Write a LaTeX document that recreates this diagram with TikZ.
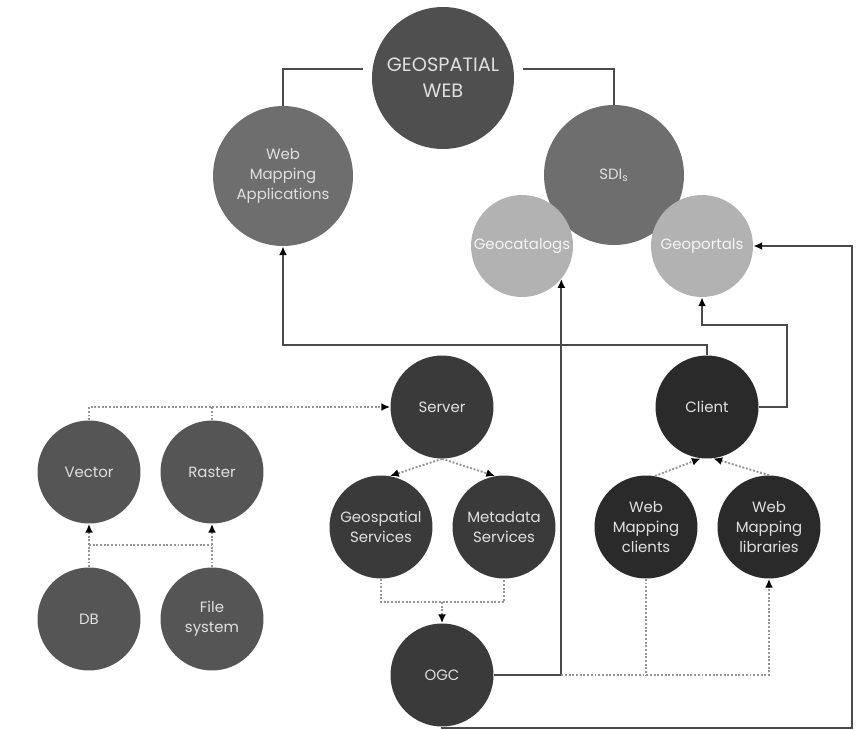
\documentclass[tikz,border=0pt]{standalone}
\usepackage{fontspec}
\setmainfont{Poppins}
\usetikzlibrary{arrows.meta}
\definecolor{topgray}{HTML}{4F4F4F}
\definecolor{midgray}{HTML}{6E6E6E}
\definecolor{lightgray}{HTML}{B2B2B2}
\definecolor{datagray}{HTML}{555555}
\definecolor{servgray}{HTML}{3A3A3A}
\definecolor{cligray}{HTML}{2A2A2A}
\definecolor{linegray}{HTML}{4A4A4A}
\definecolor{dotgray}{HTML}{959595}
\tikzset{
  bub/.style={circle,inner sep=0pt,minimum size=2.06cm,align=center,text=white!88!black,
    font=\fontsize{8.5}{11.2}\selectfont},
  big/.style={bub,minimum size=2.8cm},
  lnk/.style={draw=linegray,line width=1.1pt},
  lnkarr/.style={lnk,-{Latex[length=5pt,width=4.5pt,black]}},
  dot/.style={draw=dotgray,line width=1.1pt,densely dotted},
  dotarr/.style={dot,-{Latex[length=5pt,width=4.5pt,black]}}
}
\begin{document}
\begin{tikzpicture}[x=0.02cm,y=-0.02cm]
    \useasboundingbox[fill=white] (0,0) rectangle (863,730);
    \node[big,fill=topgray,minimum size=2.84cm,font=\fontsize{11}{15}\selectfont] (gweb) at (443,78) {GEOSPATIAL\\WEB};
    \node[big,fill=midgray] (wma) at (283,176) {Web\\Mapping\\Applications};
    \node[big,fill=midgray] (sdi) at (614,175) {SDI\textsubscript{s}};
    \node[bub,fill=lightgray,minimum size=2.04cm,text=white!92!gray] (gcat) at (522,246) {Geocatalogs};
    \node[bub,fill=lightgray,minimum size=2.04cm,text=white!92!gray] (gport) at (702,246) {Geoportals};
    \node[bub,fill=servgray] (srv) at (442,407) {Server};
    \node[bub,fill=cligray] (cli) at (707,407) {Client};
    \node[bub,fill=datagray] (vec) at (89,472) {Vector};
    \node[bub,fill=datagray] (ras) at (212,472) {Raster};
    \node[bub,fill=datagray] (db) at (89,619) {DB};
    \node[bub,fill=datagray] (fs) at (212,619) {File\\system};
    \node[bub,fill=servgray] (gsv) at (381,527) {Geospatial\\Services};
    \node[bub,fill=servgray] (msv) at (504,527) {Metadata\\Services};
    \node[bub,fill=servgray] (ogc) at (442,675) {OGC};
    \node[bub,fill=cligray] (wmc) at (646,527) {Web\\Mapping\\clients};
    \node[bub,fill=cligray] (wml) at (769,527) {Web\\Mapping\\libraries};

    \draw[lnk,shorten <=5pt] (gweb.173) -| (wma.north);
    \draw[lnk,shorten <=5pt] (gweb.7) -| (sdi.north);
    \draw[lnkarr] (cli.north) -- ++(0,-10) -| (wma.south);
    \draw[lnkarr] (cli.east) -- ++(28,0) -- ++(0,-82) -| (gport.south);
    \draw[lnkarr] (ogc.east) -| (gcat.-40);
    \draw[lnkarr] (ogc.south) |- (852,728) |- (gport.east);

    \coordinate (j1) at (150,545);
    \coordinate (j2) at (442,602);
    \draw[dotarr] (vec.north) |- (srv.west);
    \draw[dot] (ras.north) -- (ras.north |- srv.west);
    \draw[dotarr] (db.north) -- (vec.south);
    \draw[dotarr] (fs.north) -- (ras.south);
    \draw[dot] (db.north |- j1) -- (fs.north |- j1);
    \draw[dotarr] (srv.south) -- (gsv.80);
    \draw[dotarr] (srv.south) -- (msv.100);
    \draw[dot] (gsv.south) |- (j2) -| (msv.south);
    \draw[dotarr] (j2) -- (ogc.north);
    \draw[dotarr] (wmc.80) -- (cli.-97);
    \draw[dotarr] (wml.north) -- (cli.-83);
    \draw[dotarr] (ogc.east -| gcat.-40) -| (wml.south);
    \draw[dot] (wmc.south) -- (wmc.south |- ogc.east);
\end{tikzpicture}
\end{document}
